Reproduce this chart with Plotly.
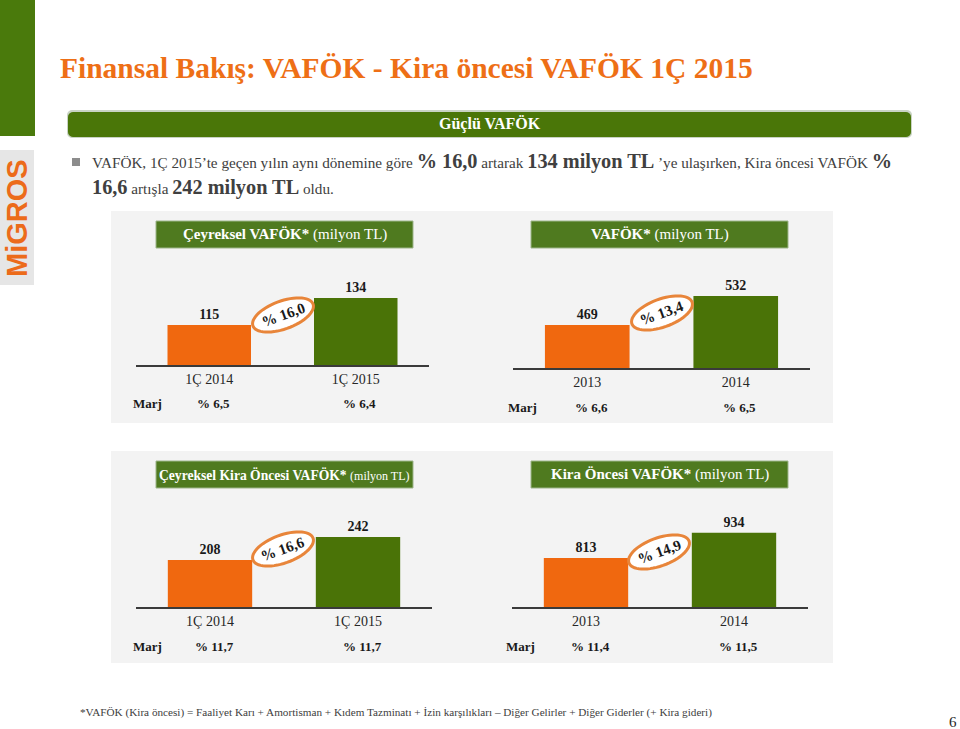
import numpy as np
import plotly.graph_objects as go

# ---------------- data ----------------
categories_quarter = ["1Ç 2014", "1Ç 2015"]
categories_year = ["2013", "2014"]

vafok_quarter = [115, 134]
vafok_year = [469, 532]
kira_quarter = [208, 242]
kira_year = [813, 934]

marj_vafok_quarter = ["% 6,5", "% 6,4"]
marj_vafok_year = ["% 6,6", "% 6,5"]
marj_kira_quarter = ["% 11,7", "% 11,7"]
marj_kira_year = ["% 11,4", "% 11,5"]

growth_labels = ["% 16,0", "% 13,4", "% 16,6", "% 14,9"]

header_titles = [
    "<b>Çeyreksel VAFÖK*</b> (milyon TL)",
    "<b>VAFÖK*</b> (milyon TL)",
    "<b>Çeyreksel Kira Öncesi VAFÖK*</b> <span style='font-size:12px'>(milyon TL)</span>",
    "<b>Kira Öncesi VAFÖK*</b> (milyon TL)",
]

# ---------------- style ----------------
W, H = 960, 729
ORANGE = "#f0680f"
GREEN_BAR = "#4a7307"
GREEN_HDR = "#4f7a1f"
TITLE_ORANGE = "#ee6f16"
PANEL_BG = "#f3f3f3"
SERIF = "Liberation Serif, DejaVu Serif, serif"


def px(x):
    return x / W


def py(y):
    return 1 - y / H


def ann(x, y, text, size, color, family=SERIF, xanchor="center", angle=0):
    return dict(x=px(x), y=py(y), xref="paper", yref="paper", text=text, showarrow=False,
                xanchor=xanchor, yanchor="middle", textangle=angle,
                font=dict(family=family, size=size, color=color))


panels = [
    dict(cats=categories_quarter, vals=vafok_quarter, marj=marj_vafok_quarter,
         x0=136, x1=429, base=365, ymin=86.8, scale=1.42, ell=(283, 315),
         marj_x=147, box=(156, 413, 221, 248), hsize=15),
    dict(cats=categories_year, vals=vafok_year, marj=marj_vafok_year,
         x0=513, x1=810, base=368, ymin=375.5, scale=0.46, ell=(662, 313),
         marj_x=522, box=(531, 788, 221, 248), hsize=15),
    dict(cats=categories_quarter, vals=kira_quarter, marj=marj_kira_quarter,
         x0=136, x1=432, base=607, ymin=138.6, scale=0.677, ell=(283, 549),
         marj_x=147, box=(156, 413, 461, 488), hsize=13.6),
    dict(cats=categories_year, vals=kira_year, marj=marj_kira_year,
         x0=512, x1=808, base=607, ymin=575.7, scale=0.207, ell=(659, 552),
         marj_x=520, box=(531, 788, 461, 488), hsize=15),
]

fig = go.Figure()
shapes = []
annotations = []

# slide decorations
shapes.append(dict(type="rect", xref="paper", yref="paper", x0=px(0), x1=px(35),
                   y0=py(136), y1=py(0), fillcolor="#4a7a0c", line_width=0, layer="below"))
shapes.append(dict(type="rect", xref="paper", yref="paper", x0=px(0), x1=px(34),
                   y0=py(285), y1=py(150), fillcolor="#e6e6e6", line_width=0, layer="below"))
annotations.append(ann(17, 218, "<b>MiGROS</b>", 29, "#ec6b1a",
                       family="Liberation Sans Narrow, Liberation Sans, Arial", angle=-90))

annotations.append(ann(58, 68, "<b>Finansal Bakış: VAFÖK - Kira öncesi VAFÖK 1Ç 2015</b>", 29.5,
                       TITLE_ORANGE, xanchor="left"))


def rounded_rect(x0, x1, y0, y1, r):
    pts = []
    for cx, cy, a0 in [(x1 - r, y0 + r, -90), (x1 - r, y1 - r, 0), (x0 + r, y1 - r, 90), (x0 + r, y0 + r, 180)]:
        for a in np.linspace(a0, a0 + 90, 6):
            pts.append((cx + r * np.cos(np.radians(a)), cy + r * np.sin(np.radians(a))))
    return "M " + " L ".join(f"{px(x):.5f},{py(y):.5f}" for x, y in pts) + " Z"


shapes.append(dict(type="path", xref="paper", yref="paper", path=rounded_rect(67, 912, 110, 138, 5),
                   fillcolor="#c9d3c4", line_width=0, layer="below"))
shapes.append(dict(type="path", xref="paper", yref="paper", path=rounded_rect(68, 911, 112, 137, 5),
                   fillcolor="#4a7608", line_width=0, layer="below"))
annotations.append(ann(490, 124, "<b>Güçlü VAFÖK</b>", 16, "white"))

# bullet
shapes.append(dict(type="rect", xref="paper", yref="paper", x0=px(72), x1=px(80),
                   y0=py(166), y1=py(158), fillcolor="#8c8c8c", line_width=0))
big = "<span style='font-size:20.3px'><b>{}</b></span>"
line1 = ("VAFÖK, 1Ç 2015’te geçen yılın aynı dönemine göre " + big.format("% 16,0") + " artarak "
         + big.format("134 milyon TL") + " ’ye ulaşırken, Kira öncesi VAFÖK " + big.format("%"))
line2 = big.format("16,6") + " artışla " + big.format("242 milyon TL") + " oldu."
annotations.append(ann(90, 161, line1, 15.2, "#404040", xanchor="left"))
annotations.append(ann(90, 187, line2, 15.2, "#404040", xanchor="left"))

# panel backgrounds
for (yt, yb) in [(211, 423), (451, 663)]:
    shapes.append(dict(type="rect", xref="paper", yref="paper", x0=px(111), x1=px(833),
                       y0=py(yb), y1=py(yt), fillcolor=PANEL_BG, line_width=0, layer="below"))

layout_axes = {}
for i, p in enumerate(panels):
    n = i + 1
    xa = "x" if n == 1 else f"x{n}"
    ya = "y" if n == 1 else f"y{n}"
    xkey = "xaxis" if n == 1 else f"xaxis{n}"
    ykey = "yaxis" if n == 1 else f"yaxis{n}"
    fig.add_trace(go.Bar(
        x=p["cats"], y=p["vals"], xaxis=xa, yaxis=ya, width=0.57,
        marker=dict(color=[ORANGE, GREEN_BAR], line_width=0),
        text=[f"<b>{v}</b>" for v in p["vals"]], textposition="outside", cliponaxis=False,
        textfont=dict(family=SERIF, size=14, color="#1a1a1a"), showlegend=False, hoverinfo="skip"))
    top_px = 100
    layout_axes[xkey] = dict(domain=[px(p["x0"]), px(p["x1"])], anchor=ya, type="category",
                             range=[-0.5, 1.5], autorange=False, automargin=False,
                             showline=True, linecolor="#3a3a3a", linewidth=1.5, ticks="",
                             showgrid=False, zeroline=False, fixedrange=True,
                             tickfont=dict(family=SERIF, size=14, color="#262626"))
    layout_axes[ykey] = dict(domain=[py(p["base"]), py(p["base"] - top_px)], anchor=xa,
                             range=[p["ymin"], p["ymin"] + top_px / p["scale"]], autorange=False,
                             automargin=False, showgrid=False, zeroline=False,
                             showticklabels=False, showline=False, fixedrange=True)
    # header box
    bx0, bx1, by0, by1 = p["box"]
    shapes.append(dict(type="rect", xref="paper", yref="paper", x0=px(bx0), x1=px(bx1),
                       y0=py(by1), y1=py(by0), fillcolor=GREEN_HDR, line=dict(color="#9db58a", width=1)))
    annotations.append(ann((bx0 + bx1) / 2, (by0 + by1) / 2, header_titles[i], p["hsize"], "white"))
    # Marj row
    marj_py = p["base"] + 39
    annotations.append(ann(p["marj_x"], marj_py, "<b>Marj</b>", 13, "#1a1a1a"))
    for j, m in enumerate(p["marj"]):
        annotations.append(dict(x=j, y=py(marj_py), xref=xa, yref="paper", text=f"<b>{m}</b>", xshift=4,
                                xanchor="center", yanchor="middle", showarrow=False,
                                font=dict(family=SERIF, size=13, color="#1a1a1a")))
    # growth ellipse
    cx, cy = p["ell"]
    th = np.radians(20)
    phi = np.linspace(0, 2 * np.pi, 60)
    a, b = 32, 14
    ex = cx + a * np.cos(phi) * np.cos(th) - b * np.sin(phi) * np.sin(th)
    ey = cy - (a * np.cos(phi) * np.sin(th) + b * np.sin(phi) * np.cos(th))
    path = "M " + " L ".join(f"{px(x):.5f},{py(y):.5f}" for x, y in zip(ex, ey)) + " Z"
    shapes.append(dict(type="path", xref="paper", yref="paper", path=path, fillcolor="white",
                       line=dict(color="#e8853a", width=3)))
    annotations.append(ann(cx, cy, f"<b>{growth_labels[i]}</b>", 15, "#1a1a1a", angle=-20))

# footer
annotations.append(ann(78, 712,
                       "*VAFÖK (Kira öncesi) = Faaliyet Karı + Amortisman + Kıdem Tazminatı + İzin karşılıkları – Diğer Gelirler + Diğer Giderler (+ Kira gideri)",
                       11.2, "#404040", xanchor="left"))
annotations.append(ann(953, 722, "6", 15, "#262626"))

fig.update_layout(width=W, height=H, margin=dict(l=0, r=0, t=0, b=0, autoexpand=False),
                  paper_bgcolor="white", plot_bgcolor="rgba(0,0,0,0)",
                  shapes=shapes, annotations=annotations, bargap=0.4, **layout_axes)

fig.write_html("out.html", config={"displayModeBar": False},
               post_script="document.body.style.margin='0px';")
